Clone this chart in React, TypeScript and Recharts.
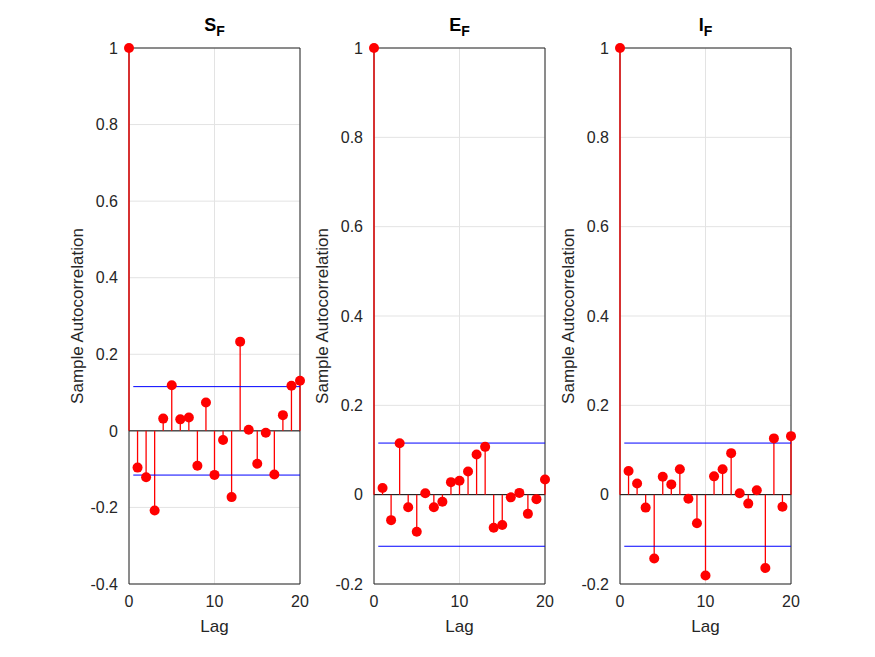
import React from "react";
import {
  ComposedChart,
  Scatter,
  XAxis,
  YAxis,
  CartesianGrid,
  ReferenceLine,
  ReferenceArea,
} from "recharts";

const lags = [0, 1, 2, 3, 4, 5, 6, 7, 8, 9, 10, 11, 12, 13, 14, 15, 16, 17, 18, 19, 20];
const sfAcf = [1, -0.096, -0.121, -0.208, 0.032, 0.119, 0.03, 0.035, -0.091, 0.074, -0.115, -0.024, -0.173, 0.233, 0.003, -0.086, -0.005, -0.114, 0.041, 0.118, 0.131];
const efAcf = [1, 0.015, -0.057, 0.115, -0.028, -0.083, 0.003, -0.028, -0.016, 0.028, 0.031, 0.052, 0.09, 0.107, -0.074, -0.068, -0.006, 0.004, -0.043, -0.01, 0.034];
const ifAcf = [1, 0.053, 0.025, -0.029, -0.143, 0.04, 0.023, 0.057, -0.009, -0.064, -0.181, 0.041, 0.057, 0.093, 0.003, -0.02, 0.01, -0.164, 0.126, -0.027, 0.131];
const confBound = 0.1155;
const xTicks = [0, 10, 20];
const yTicksWide = [-0.4, -0.2, 0, 0.2, 0.4, 0.6, 0.8, 1];
const yTicksNarrow = [-0.2, 0, 0.2, 0.4, 0.6, 0.8, 1];

const font = "'Liberation Sans', Arial, sans-serif";
const axisColor = "#262626";

interface PanelProps {
  values: number[];
  ticks: number[];
  left: number;
  name: string;
}

const Dot = (props: any) => {
  const { cx, cy } = props;
  return <circle cx={cx} cy={cy} r={5} fill="#ff0000" />;
};

const Panel = ({ values, ticks, left, name }: PanelProps) => {
  const data = lags.map((lag, i) => ({ lag, acf: values[i] }));
  const yMin = ticks[0];
  return (
    <div style={{ position: "absolute", left, top: 0 }}>
      <div
        style={{
          position: "absolute",
          left: 100,
          width: 171,
          top: 15,
          textAlign: "center",
          fontFamily: font,
          fontWeight: "bold",
          fontSize: 18,
          color: "#000",
        }}
      >
        {name}
        <sub style={{ fontSize: 14 }}>F</sub>
      </div>
      <ComposedChart
        width={290}
        height={657}
        data={data}
        margin={{ top: 48, right: 19, left: 0, bottom: 43 }}
      >
        <CartesianGrid stroke="#e3e3e3" horizontalValues={ticks} verticalValues={xTicks} />
        <XAxis
          dataKey="lag"
          type="number"
          domain={[0, 20]}
          ticks={xTicks}
          height={30}
          tickLine={false}
          axisLine={false}
          tickMargin={6}
          tick={{ fill: axisColor, fontSize: 16, fontFamily: font }}
          label={{ value: "Lag", position: "bottom", offset: 6, fill: axisColor, fontSize: 17, fontFamily: font }}
        />
        <YAxis
          type="number"
          domain={[yMin, 1]}
          ticks={ticks}
          width={100}
          tickLine={false}
          axisLine={false}
          tickMargin={5}
          tickFormatter={(v: number) => String(Math.round(v * 10) / 10)}
          tick={{ fill: axisColor, fontSize: 16, fontFamily: font }}
          label={{
            value: "Sample Autocorrelation",
            angle: -90,
            position: "center",
            dx: -2,
            fill: axisColor,
            fontSize: 17,
            fontFamily: font,
          }}
        />
        <ReferenceArea x1={0} x2={20} y1={yMin} y2={1} fill="none" stroke={axisColor} strokeWidth={1} />
        <ReferenceLine y={0} stroke="#000" strokeWidth={1} />
        {data.map((d) => (
          <ReferenceLine
            key={d.lag}
            segment={[
              { x: d.lag, y: 0 },
              { x: d.lag, y: d.acf },
            ]}
            stroke="#ff0000"
            strokeWidth={1.3}
          />
        ))}
        <ReferenceLine
          segment={[
            { x: 0.5, y: confBound },
            { x: 20, y: confBound },
          ]}
          stroke="#0000ff"
          strokeWidth={1}
        />
        <ReferenceLine
          segment={[
            { x: 0.5, y: -confBound },
            { x: 20, y: -confBound },
          ]}
          stroke="#0000ff"
          strokeWidth={1}
        />
        <Scatter dataKey="acf" fill="#ff0000" shape={<Dot />} isAnimationActive={false} />
      </ComposedChart>
    </div>
  );
}

export default function App() {
  return (
    <div style={{ position: "absolute", left: 0, top: 0, width: 875, height: 657, background: "#fff" }}>
      <Panel values={sfAcf} ticks={yTicksWide} left={29} name="S" />
      <Panel values={efAcf} ticks={yTicksNarrow} left={274} name="E" />
      <Panel values={ifAcf} ticks={yTicksNarrow} left={520} name="I" />
    </div>
  );
}
